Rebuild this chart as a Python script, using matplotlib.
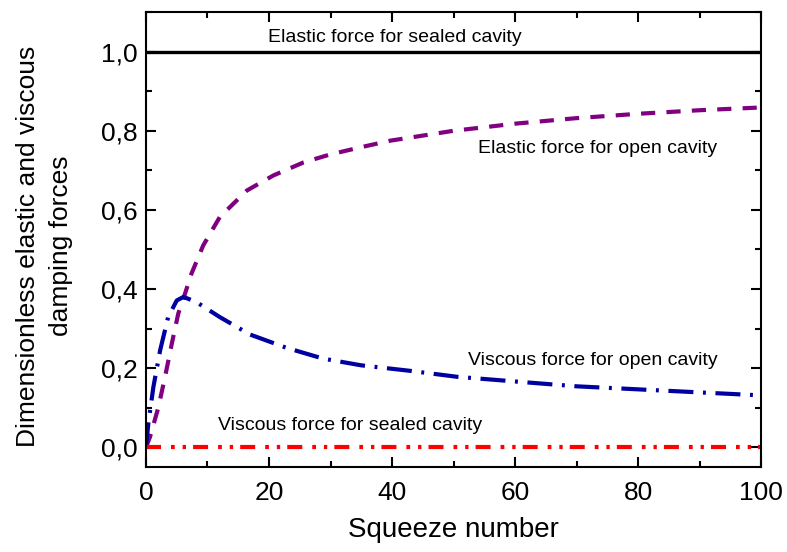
import numpy as np
import matplotlib
matplotlib.use('Agg')
import matplotlib.pyplot as plt
from matplotlib.ticker import MultipleLocator, FuncFormatter

plt.rcParams['font.family'] = ['Liberation Sans', 'DejaVu Sans']

# elastic force, open cavity
el_x = [0, 0.65, 2.0, 3.1, 4.2, 5.25, 6.07, 7.4, 9.3, 12.0, 16.4, 20.7, 25.6, 29.9, 34.8, 39.7,
        50, 60, 70, 80, 90, 100]
el_y = [0, 0.026, 0.10, 0.178, 0.262, 0.338, 0.375, 0.439, 0.51, 0.582, 0.649, 0.687, 0.72, 0.74, 0.758, 0.775,
        0.80, 0.818, 0.832, 0.843, 0.852, 0.859]

# viscous force, open cavity
vi_x = [0, 0.38, 1.2, 2.3, 3.6, 5.0, 6.1, 8.2, 12.0, 16.9, 22.9, 28.8, 35, 43, 50.6, 61, 70, 83, 89.5, 100]
vi_y = [0, 0.06, 0.152, 0.245, 0.329, 0.371, 0.38, 0.367, 0.329, 0.285, 0.251, 0.224, 0.207, 0.193, 0.178,
        0.165, 0.154, 0.144, 0.139, 0.131]

# sealed cavity
sealed_x = [0, 100]
sealed_el = [1.0, 1.0]
sealed_vi = [0.0, 0.0]

fig = plt.figure(figsize=(7.87, 5.52), dpi=100)
ax = fig.add_axes([0.1855, 0.154, 0.7815, 0.824])

lw = 3.0
ax.plot(sealed_x, sealed_el, color='black', lw=2.4)
ax.plot(el_x, el_y, color='#800080', lw=lw, dashes=(3.4, 2.7))
ax.plot(vi_x, vi_y, color='#0000A0', lw=lw, dashes=(6, 2.3, 0.7, 2.3))
ax.plot(sealed_x, sealed_vi, color='red', lw=lw, dashes=(3.6, 2.4, 0.9, 1.9, 0.8, 1.7))

ax.text(40.5, 1.035, 'Elastic force for sealed cavity', fontsize=14, ha='center', va='center')
ax.text(73.5, 0.755, 'Elastic force for open cavity', fontsize=14, ha='center', va='center')
ax.text(72.7, 0.22, 'Viscous force for open cavity', fontsize=14, ha='center', va='center')
ax.text(33.2, 0.056, 'Viscous force for sealed cavity', fontsize=14, ha='center', va='center')

ax.set_xlim(0, 100)
ax.set_ylim(-0.05, 1.1)
ax.xaxis.set_major_locator(MultipleLocator(20))
ax.xaxis.set_minor_locator(MultipleLocator(10))
ax.yaxis.set_major_locator(MultipleLocator(0.2))
ax.yaxis.set_minor_locator(MultipleLocator(0.1))
ax.yaxis.set_major_formatter(FuncFormatter(lambda v, p: ('%.1f' % v).replace('.', ',')))

ax.tick_params(which='both', direction='in', top=True, right=True, width=1.5)
ax.tick_params(which='major', length=7, labelsize=19)
ax.tick_params(which='minor', length=4)
ax.tick_params(axis='x', which='major', pad=10)
ax.tick_params(axis='y', which='major', pad=6)
for s in ax.spines.values():
    s.set_linewidth(1.5)

ax.set_xlabel('Squeeze number', fontsize=20, labelpad=9)
ax.set_ylabel('Dimensionless elastic and viscous\ndamping forces', fontsize=19, linespacing=1.5)
ax.yaxis.set_label_coords(-0.118, 0.486)

fig.savefig('out.png', dpi=100)
